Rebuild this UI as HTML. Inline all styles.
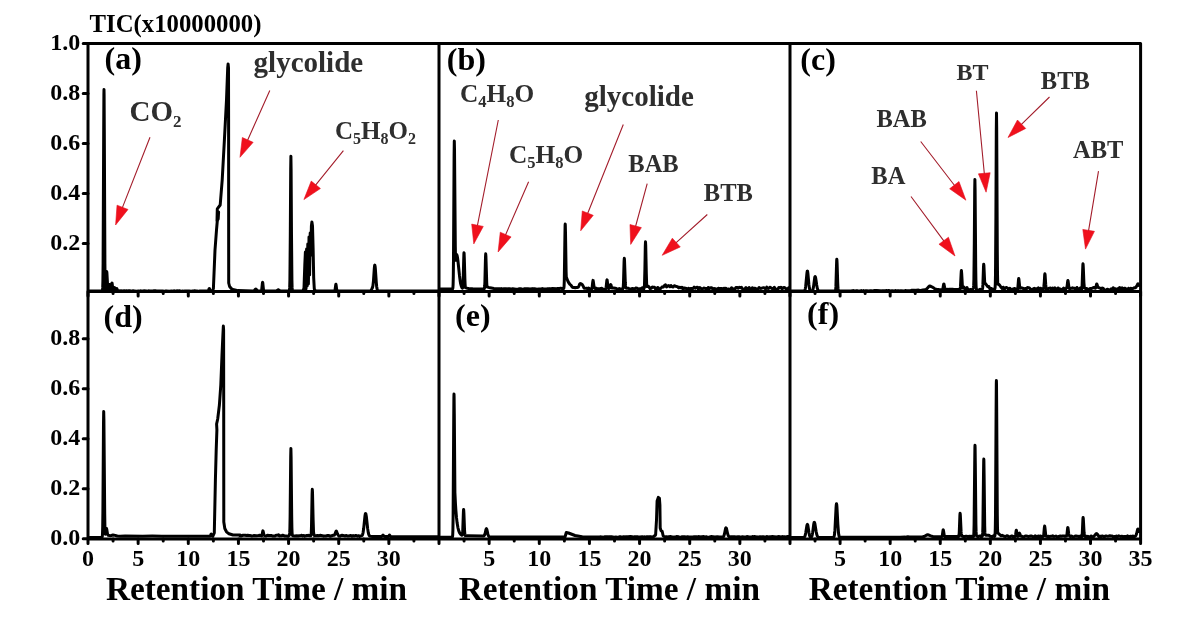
<!DOCTYPE html>
<html><head><meta charset="utf-8"><title>TIC chromatograms</title>
<style>html,body{margin:0;padding:0;background:#fff;}svg{display:block;}text{font-family:"Liberation Serif","Times New Roman",serif;font-weight:bold;}.k{fill:#000;}.g{fill:#2e2e2e;}</style></head><body>
<svg width="1179" height="629" viewBox="0 0 1179 629">
<rect width="1179" height="629" fill="#fff"/>
<g fill="none" stroke="#000" stroke-width="3" stroke-linejoin="round" stroke-linecap="round">
<polyline points="89.5,291 102.1,290.97 102.3,290.84 102.5,290.22 102.7,287.9 102.9,280.84 103.1,263.73 103.7,129.65 103.9,94.41 104,89.5 104.1,94.41 104.3,129.65 104.9,263.72 105.1,280.81 105.3,287.74 105.5,289.66 105.7,289.19 105.9,286.96 106.5,273.33 106.7,271.5 106.9,272.75 107.7,287.26 107.9,289.18 108.1,290.18 108.3,290.53 108.5,290.36 108.7,289.64 109.3,285.11 109.5,284.5 109.7,285.11 110.3,289.66 110.5,290.42 110.7,290.69 110.9,290.55 111.1,289.91 111.3,288.61 111.7,284.59 111.9,283.2 112,283 112.1,283.2 112.3,284.59 112.9,289.91 113.1,290.57 113.3,290.78 113.5,290.67 113.7,290.27 114.3,287.83 114.5,287.5 114.7,287.83 115.3,290.26 115.5,290.63 115.7,290.69 115.9,290.46 116.5,288.73 116.7,288.5 116.9,288.74 117.3,289.97 117.7,290.79 117.9,290.93 118.7,290.83 119.9,291.08 120.9,290.81 122.1,291.02 124.3,290.78 125.5,290.98 126.5,290.77 127.5,290.95 128.7,290.78 129.7,290.79 131.9,291.15 133.1,290.81 134.3,290.88 136.3,291.21 138.5,290.96 139.7,291.24 140.7,290.82 140.9,290.81 141.9,291.18 143.1,290.89 144.1,290.82 146.3,290.9 147.3,291.13 148.5,290.84 149.5,291.02 150.7,291.07 151.7,290.95 152.9,291.02 154.1,290.78 156.1,290.85 157.3,291.09 159.5,290.91 160.7,291.04 162.7,290.91 163.9,291.15 165.1,291.08 166.1,290.87 169.5,291.18 170.5,291.11 171.5,290.91 172.7,291.24 173.9,290.82 175.9,291.11 177.1,290.83 178.3,290.97 179.3,290.77 180.5,291.09 181.5,291.13 182.7,291.05 183.7,291.19 184.9,290.92 185.9,291.1 189.1,290.98 191.3,291.22 192.5,290.99 193.7,291.05 194.7,290.78 195.7,291.07 196.9,291.07 198.1,291.24 199.1,291.16 199.9,290.97 207.7,291 208.1,290.93 208.5,290.49 209.1,288.74 209.3,288.5 209.5,288.74 210.1,290.49 210.5,290.93 210.9,291 212.4,291 213.4,288.5 215,250 216.5,230 217.2,222 218.6,212 218.2,219 217,221 217.3,208.8 220.2,205 221,195 222.2,180 224.4,140 226.5,100 227.7,68 228.1,64 228.5,68 228.6,120 228.7,283 229.6,286.5 231.5,288.8 234,289.8 238,290.6 252.9,290.99 253.5,290.93 254.1,290.68 255.3,289.37 255.8,289.1 256.3,289.37 257.3,290.53 257.9,290.88 258.7,290.99 260.9,290.99 261.3,290.87 261.5,290.56 261.7,289.82 262.3,284.03 262.5,282.51 262.6,282.3 262.7,282.51 262.9,284.03 263.5,289.82 263.7,290.56 263.9,290.87 264.1,290.97 275.9,290.97 276.7,290.75 277.9,289.91 278.3,289.8 278.7,289.91 279.9,290.75 280.7,290.97 289.1,290.95 289.3,290.76 289.5,289.93 289.7,287.15 289.9,279.6 290.3,235.62 290.7,168.97 290.9,156.3 291.1,168.97 291.5,235.62 291.9,279.6 292.1,287.15 292.3,289.93 292.5,290.76 292.7,290.95 303,291 304,288 304.8,265 305.4,252 306,289 306.6,249 307.2,286 307.8,244 308.4,284 309,237 309.6,275 310.2,233 310.8,255 311.4,226 311.9,222 312.5,226 313.1,248 313.7,278 314.3,289 315.5,291 334.3,290.99 334.7,290.81 334.9,290.42 335.1,289.6 335.7,284.84 335.9,284.2 336.1,284.84 336.7,289.6 336.9,290.42 337.1,290.81 337.5,290.99 368.9,291 370.3,290.87 370.9,290.48 371.7,289.24 372.5,287.5 372.9,285.94 373.5,280.55 374.3,268.55 374.5,266.38 374.7,265.23 374.8,265.1 375.1,266.29 375.3,268.21 376.3,282.62 376.7,286.76 376.9,288.16 377.3,289.87 377.7,290.61 378.1,290.89 379.5,291 438.5,291"/>
<polyline points="440.5,289 452.3,288.99 452.5,288.94 452.7,288.72 452.9,287.81 453.1,284.77 453.3,276.53 453.5,258.75 454.1,155.62 454.3,141 454.5,148.96 455.3,246.32 455.5,256.7 455.7,260.3 455.9,259.9 456.3,255.84 456.5,254.65 456.6,254.5 456.7,254.55 457.1,255.49 457.5,257.55 457.9,260.53 459.5,275.71 460.3,281.7 460.7,283.87 461.3,286.18 461.9,287.57 462.3,288.1 462.5,288.19 462.7,287.93 462.9,286.79 463.1,283.81 463.7,259.88 463.9,253.57 464,252.7 464.1,253.3 464.3,257.73 464.9,279.48 465.1,284.08 465.3,286.76 465.5,287.66 466.1,287.9 467.3,288.23 468.7,288.48 472.7,288.8 483.7,288.99 484.1,288.93 484.3,288.72 484.5,287.99 484.7,286.02 484.9,281.75 485.5,257.11 485.7,253.8 485.9,256.05 486.7,282.26 486.9,285.74 487.1,286.87 488.5,287.39 490.1,287.83 493.9,288.45 499.9,288.84 500.5,288.95 501.5,288.62 502.7,288.87 503.9,288.71 505.9,288.67 507.1,289.1 508.3,288.73 510.3,288.87 511.5,289.17 512.7,288.71 515.9,289.17 518.1,289.15 519.3,288.81 521.3,288.85 522.5,289.15 523.5,289.19 524.7,288.71 527.9,288.75 530.1,288.95 532.3,288.61 533.5,288.84 534.7,288.82 536.9,289.13 538.9,288.89 541.1,288.97 542.3,288.59 543.5,289.09 545.7,289.07 546.7,289.02 547.7,288.8 548.9,288.78 549.9,288.61 551.1,288.91 552.3,288.56 556.5,288.7 557.7,288.53 559.9,288.59 560.1,288.37 560.9,288.32 562.1,288.63 563.1,288.25 563.5,288.44 563.7,288.43 563.9,287.86 564.1,285.77 564.3,280.44 564.9,237.03 565.1,225.61 565.2,223.99 565.3,225.03 565.5,232.87 566.1,271.52 566.3,276.97 567.7,280.7 568.9,283.01 569.9,284.35 570.9,285.1 572.1,286.9 573.1,287.6 574.3,287.46 575.3,287.78 576.3,287.56 577.1,287.59 577.9,287.41 578.3,287.1 578.7,286.51 579.7,284.08 580.1,283.61 580.3,283.55 580.9,283.84 581.5,283.93 581.9,284.17 582.9,285.56 584.1,288.16 585.1,288.36 586.3,288.16 587.3,288.66 587.5,288.65 588.5,288.1 590.7,289.25 591.5,289.11 591.7,288.99 591.9,288.66 592.1,287.91 592.7,282.16 593,280.39 593.1,280.48 593.3,281.42 594.1,287.25 594.3,287.9 594.7,288.39 595.1,288.5 596.1,288.28 596.3,288.33 597.3,288.98 598.5,288.72 599.5,288.99 600.7,288.43 601.7,288.31 602.7,288.95 603.9,289.22 605.5,288.99 605.7,288.87 605.9,288.54 606.1,287.75 606.7,281.61 606.9,280 607,279.78 607.1,279.93 607.3,281.05 607.9,286.52 608.1,287.68 608.3,288.34 608.5,288.57 608.9,288.54 609.7,288.03 610.1,286.82 610.5,284.91 610.7,284.49 610.9,284.71 611.7,287.61 612.1,288.09 613.7,288.03 614.9,288.33 615.9,288.3 617.1,288.82 618.1,289.1 618.3,289.07 619.3,288.51 620.5,289.1 622.3,289.12 622.7,288.99 622.9,288.68 623.1,287.93 623.3,286.11 623.5,282.34 624.1,261.1 624.3,258.24 624.5,260.13 625.3,282.47 625.5,285.44 625.7,287.05 625.9,287.79 626.1,288.08 626.3,288.17 628.1,288.19 629.1,288.64 630.3,289.02 631.3,288.95 632.5,288.5 634.7,288.88 635.7,288.09 635.9,288.05 637.1,288.26 637.7,288.77 638.1,288.96 639.9,288.81 640.1,289.16 642.3,287.73 642.5,287.8 643.5,289.24 643.9,288.73 644.1,288.22 644.3,287.03 644.5,284.16 644.9,268.95 645.3,245.99 645.5,241.76 645.7,245.01 646.3,273.09 646.7,285.3 646.9,286.61 647.9,286.09 648.9,286.7 650.1,288.62 651.1,288.38 652.3,287.12 653.3,287.15 654.5,287.29 655.5,289.1 655.7,289.26 656.7,289.01 657.7,287.4 657.9,287.38 658.9,288.88 659.9,289.08 660.1,289 662.1,286.99 662.3,286.9 663.3,287.03 664.5,285.5 665.5,284.88 666.5,286.85 666.7,286.95 667.7,285.99 668.7,285.6 668.9,285.67 669.9,286.66 670.9,285.59 671.1,285.6 672.1,286.83 673.1,286.97 673.3,286.86 674.3,285.69 676.5,286.55 677.5,286.69 678.7,287.86 679.7,287.28 679.9,287.28 680.9,287.81 681.9,287.25 682.1,287.38 683.1,289.31 684.1,288.05 684.3,287.96 686.3,288.56 687.5,289.45 688.5,288.31 688.7,288.32 689.7,289.5 690.7,288.51 690.9,288.42 692.9,288.47 693.1,288.35 694.1,287.16 695.1,288.15 695.3,288.19 696.3,287.58 697.3,287.16 697.5,287.3 698.5,289.18 699.5,287.7 699.7,287.62 701.7,288.93 701.9,288.95 702.9,288.55 703.9,288 704.1,287.99 705.1,288.45 706.3,288.6 707.3,289.14 708.3,287.54 708.5,287.48 709.5,288.56 710.7,287.75 711.7,287.82 712.7,288.99 712.9,289.05 713.9,288.42 715.1,288.61 717.1,289.44 717.3,289.36 718.3,288.25 719.5,288.67 720.5,288.41 721.5,288.43 722.7,288.9 723.9,288.3 724.9,288.49 725.9,288.36 726.1,288.45 727.1,289.55 728.1,288.98 728.3,288.96 729.3,289.38 730.3,289.53 730.5,289.39 731.5,287.77 732.5,288.48 733.7,289.55 734.7,289.31 734.9,289.12 735.9,287.46 736.9,287.42 737.1,287.49 738.1,288.25 739.1,287.38 739.3,287.33 740.3,287.73 741.3,287.33 741.5,287.43 742.5,288.84 744.7,289.43 745.7,287.68 745.9,287.63 746.9,288.96 747.9,288.83 748.1,288.69 749.1,287.47 750.1,289.22 750.3,289.42 751.3,289.62 752.3,287.85 752.5,287.84 753.5,289.58 754.5,288.27 754.7,288.16 755.7,288.37 756.7,289.55 756.9,289.64 757.9,289.26 758.9,287.68 759.1,287.58 760.1,288.22 761.1,288.42 763.5,287.64 764.5,287.93 765.5,288.88 765.7,288.81 766.7,287.15 767.7,288.41 767.9,288.51 768.9,288.25 769.9,287.25 770.1,287.22 772.1,288.65 772.3,288.7 773.3,288.43 774.3,287.37 774.5,287.48 775.5,289.66 776.5,289.2 776.7,289.19 777.7,289.63 778.7,287.58 778.9,287.41 779.9,287.79 780.9,287.26 781.1,287.38 782.1,289.13 783.3,287.77 784.3,287.44 785.5,288.31 786.5,289.47 787.5,289.25 788.7,287.77 788.9,287.72"/>
<polyline points="791.5,291 803.5,290.97 804.3,290.81 804.7,290.45 805.1,289.55 805.3,288.77 805.7,286.26 806.9,273.35 807.1,271.88 807.3,271.1 807.4,271 807.5,271.1 807.7,271.88 807.9,273.35 808.9,284.48 809.3,287.68 809.7,289.55 809.9,290.09 810.3,290.67 810.7,290.88 811.1,290.94 812.1,290.8 812.5,290.47 812.9,289.67 813.5,286.94 814.7,277.61 814.9,276.79 815.1,276.5 815.3,276.7 815.7,278.2 816.7,285.01 817.3,288.26 817.9,290 818.5,290.69 819.1,290.89 820.1,290.94 834.7,290.92 835.3,290.8 835.5,290.43 835.7,289.32 835.9,286.64 836.5,265.6 836.7,260.07 836.8,259.3 836.9,259.82 837.1,263.67 837.7,282.63 837.9,286.63 838.1,288.98 838.3,290.15 838.5,290.65 838.9,290.89 849.9,290.89 850.1,290.97 851.3,291 852.5,290.64 853.5,290.62 854.7,291 856.9,290.62 858.1,291.12 859.1,290.96 860.3,291.01 861.3,290.62 862.3,291.04 862.5,291.04 863.5,290.61 864.7,291.06 865.7,290.83 866.7,290.77 868.9,291.09 870.1,290.72 871.1,290.64 872.3,290.87 874.5,290.61 876.7,290.57 879.9,290.72 881.1,290.99 882.3,290.72 883.3,290.83 884.3,290.65 885.5,290.73 886.5,290.55 887.7,290.67 888.7,290.54 889.9,290.96 892.1,290.63 894.3,291.07 895.3,290.62 895.5,290.61 896.5,291 897.7,290.77 898.7,290.8 899.9,290.98 900.9,290.71 904.1,290.96 905.3,290.56 906.5,290.82 910.7,290.43 911.9,290.22 914.1,290.17 915.3,290.51 916.3,290.22 918.5,290.06 919.7,290.48 920.7,290.47 922.9,290.05 924.9,289.85 926.1,289.47 926.7,288.96 929.1,286.31 929.5,285.99 929.7,285.99 931.1,286.51 932.9,287.43 933.9,288.02 935.1,289.16 936.1,289.22 937.1,289.48 938.3,289.39 939.5,289.65 941.5,289.69 942.5,289.43 942.9,288.75 943.5,285.08 943.7,284.13 943.8,284 943.9,284.07 944.1,284.69 944.7,287.89 944.9,288.54 945.1,288.98 945.5,289.33 946.1,289.42 947.1,289.3 948.1,289.44 949.3,289.21 950.3,289.17 951.5,289.31 952.7,289.25 953.7,289.42 959.3,289.42 959.9,289.17 960.1,288.86 960.5,286.39 961.1,274.19 961.3,270.97 961.4,270.51 961.7,273.53 962.5,288.08 962.7,287.95 963.5,286.83 963.7,286.89 964.7,288.82 965.7,288.93 965.9,288.8 966.9,287.47 967.9,289.61 968.1,289.84 969.1,290.06 970.1,289.44 970.3,289.4 972.3,289.92 972.5,289.77 973.1,288.71 973.3,288.2 973.5,287.19 973.7,285.13 973.9,279.18 974.3,243.8 974.7,189.87 974.9,179.55 975.1,189.85 975.7,266.52 975.9,279.97 976.1,286.29 976.3,288.72 976.5,289.56 976.7,289.88 976.9,289.99 977.9,289.91 978.9,289.96 980.1,289.28 981.1,290.06 981.3,290.09 982.1,289.61 982.5,288.83 982.7,287.43 982.9,284.4 983.5,266.78 983.7,264.19 983.9,265.55 984.7,282.78 985.7,283.87 987.7,286.57 987.9,286.68 988.9,286.55 989.9,288.78 990.1,288.95 991.1,288.49 992.3,288.89 994.3,289.21 994.7,289.05 994.9,288.7 995.1,287.55 995.3,283.85 995.5,273.97 995.9,216.55 996.3,129.69 996.5,112.93 996.7,129.24 997.3,251.68 997.5,272.9 997.7,282.76 997.9,284.15 998.3,284.12 998.5,284.23 999.7,285.26 1001.3,287.55 1002.1,288.37 1003.1,287.22 1003.3,287.28 1004.3,289.16 1005.5,287.89 1006.5,287.51 1007.7,288.23 1008.7,289.44 1009.7,288.14 1009.9,288.14 1010.9,289.52 1011.9,290.13 1012.1,290.07 1013.1,288.85 1014.1,288.57 1015.3,288.82 1016.5,289.42 1017.3,289.5 1017.5,289.32 1017.7,288.65 1017.9,287.28 1018.5,279.57 1018.7,278.53 1018.9,279.23 1019.7,287.24 1019.9,288.01 1020.1,288.29 1020.3,288.26 1020.9,287.71 1022.9,288.17 1024.1,289.56 1025.1,288.45 1025.3,288.4 1026.3,289.07 1027.3,287.66 1027.5,287.53 1028.5,287.65 1029.5,288.18 1030.7,289.36 1031.9,289.41 1032.9,289.37 1033.9,288.39 1034.1,288.35 1035.1,288.92 1036.3,288.78 1037.3,288.78 1038.3,287.89 1038.5,288 1039.5,289.97 1040.5,288.21 1040.7,288.23 1041.7,290.21 1042.7,290.1 1042.9,289.86 1043.5,288.33 1043.9,286.25 1044.3,281.81 1044.7,274.86 1044.9,273.67 1045.1,274.83 1045.7,284.2 1046.1,288.38 1046.3,289.25 1046.5,289.7 1046.7,289.92 1047.1,290.13 1047.3,290.04 1048.3,288.72 1049.5,288.2 1050.5,288.05 1051.5,289.92 1051.7,289.92 1052.7,288.05 1053.7,289 1053.9,288.98 1054.9,287.86 1057.1,290.13 1058.1,288.04 1058.3,288 1059.3,289.75 1060.3,288.96 1060.5,288.98 1061.5,289.94 1062.5,289.47 1063.7,288.1 1064.7,289.8 1064.9,289.86 1066.1,288.58 1066.7,287.68 1067.1,286.08 1067.7,281.19 1067.9,280.52 1068.1,280.95 1068.9,287.12 1069.1,288.06 1069.3,288.54 1069.5,288.69 1070.3,288.71 1072.5,287.84 1073.5,288.36 1074.7,288.33 1075.7,289.66 1075.9,289.58 1076.9,287.45 1077.9,289.36 1078.1,289.57 1079.1,289.79 1080.1,287.96 1080.3,287.98 1081.3,290.01 1081.5,289.83 1081.7,289.42 1081.9,288.4 1082.1,286.09 1082.7,268.81 1082.9,264.37 1083,263.78 1083.1,264.26 1083.3,267.51 1083.9,282.54 1084.3,287.13 1084.5,287.78 1084.9,288.25 1085.7,288.48 1086.7,288.53 1086.9,288.69 1087.9,290.23 1088.9,289.19 1090.1,288.45 1091.3,288.59 1092.3,288.2 1093.5,287.58 1094.5,287.59 1095.1,288.24 1095.5,288.26 1095.7,287.81 1096.7,283.91 1097.1,284.55 1097.7,286.67 1097.9,287.19 1098.1,287.37 1098.5,287.59 1098.9,287.53 1099.3,287.89 1100.1,288.21 1101.1,288.86 1102.1,288.04 1102.3,288 1103.3,288.47 1104.3,289.95 1104.5,290.08 1106.5,289.72 1107.7,289.19 1108.9,289.99 1109.9,290.05 1110.9,289.06 1111.1,289 1112.1,289.43 1113.1,287.73 1113.3,287.73 1114.3,289.47 1115.3,288.75 1115.5,288.76 1116.5,289.52 1117.7,289.13 1118.7,288.22 1119.7,287.61 1119.9,287.77 1120.9,290.01 1121.9,287.97 1122.1,287.86 1123.1,288.73 1124.3,288.36 1125.3,288.24 1126.5,289.54 1127.5,290.14 1128.5,288.32 1128.7,288.24 1129.7,289.24 1130.7,288.34 1130.9,288.31 1131.9,288.97 1133.1,288.45 1134.1,287.87 1134.9,287.83 1135.5,287.68 1135.9,287.33 1136.1,287.02 1137.3,284.96 1137.7,284.06 1137.9,283.84 1138.1,283.85 1138.3,284.06 1138.9,285.45"/>
<polyline points="89.5,537.5 101.7,537.46 101.9,537.41 102.1,537.21 102.3,536.43 102.5,533.82 102.7,526.75 102.9,511.48 103.5,423.35 103.7,411.5 103.9,419.54 104.7,513.2 104.9,525.63 105.1,532.3 105.3,534.19 105.5,533.92 105.9,532.01 106.3,529.03 106.5,528.5 106.7,528.97 107.5,533.93 107.9,535 108.3,535.32 109.5,535.59 110.5,535.65 111.3,535.49 112.5,535.04 113,535 114.1,535.17 117.3,535.99 120.1,536.2 125.1,536.09 142.7,536.19 152.3,536.1 161.9,536.19 199.9,536.2 209.5,536.28 209.9,536.25 210.3,535.98 210.9,534.45 211.2,534 211.5,534.46 212.1,535.99 212.3,536.18 212.7,536.27 213,536 214.3,533 215.4,480 216.2,450 216.9,430 216.6,424 217.7,419 219.4,405 220.8,385 222,355 222.9,335 223.35,326 223.6,330 223.7,400 223.8,522 224.8,528.5 226.5,531.8 229,533.8 233,535 240,535 240.1,536.03 240.9,536.1 242.1,535.53 243.1,535.24 244.1,535.29 245.3,535.2 246.3,535.43 247.5,535.2 249.7,535.38 251.9,536.01 252.9,535.88 254.1,535.54 256.3,535.65 258.5,535.47 259.7,535.22 260.7,535.41 261.3,535.78 261.7,535.92 261.9,535.65 262.1,534.96 262.7,531.4 262.9,530.83 263.1,531.18 263.9,534.76 264.3,535.51 264.7,535.71 266.1,535.99 267.3,535.36 269.5,535.4 271.7,535.6 272.9,536.1 274.9,536.03 276.1,535.18 277.7,535.27 278.5,534.74 278.7,534.89 279.3,535.81 279.5,535.93 280.5,535.64 281.7,535.71 282.7,535.17 283.9,535.62 284.9,536.1 286.1,536.01 288.1,536.15 288.3,536.09 289.1,535.54 289.3,535.28 289.5,534.72 289.7,532.91 289.9,528.01 290.1,517.46 290.7,456.68 290.9,448.53 291.1,456.7 291.7,517.54 291.9,528.13 292.1,533.07 292.3,534.93 292.5,535.52 292.7,535.7 294.7,536.11 296.9,535.85 298.1,535.97 299.3,535.67 300.3,535.76 301.3,535.29 301.5,535.31 302.5,535.99 303.5,535.49 303.7,535.51 304.7,536.13 306.9,535.52 307.9,535.36 309.1,535.47 310.3,535.86 310.7,535.8 310.9,535.54 311.1,534.6 311.3,532.03 311.5,526.34 312.1,493.8 312.3,489.37 312.5,492.25 313.1,519.33 313.5,531.04 313.7,533.58 313.9,534.8 314.1,535.33 314.5,535.7 315.7,535.81 317.9,535.46 318.9,535.8 319.1,535.78 320.1,535.25 322.3,535.7 323.5,536.18 324.5,535.89 325.7,536.1 326.7,535.73 327.7,535.51 328.9,535.5 329.9,536.15 330.1,536.19 333.3,535.26 333.9,535.37 334.3,535.22 334.9,534.2 335.9,531.43 336.2,531.11 336.5,531.3 336.7,531.67 337.5,533.91 338.1,535.17 338.7,535.8 339.9,536.2 341.1,535.49 342.1,535.31 343.1,535.59 344.3,535.7 345.3,535.94 346.5,535.48 347.7,536.08 348.7,536.03 350.9,535.5 351.9,536.19 352.1,536.2 353.1,535.61 354.1,536.07 354.3,536.07 355.3,535.54 356.3,535.57 357.5,536.15 358.5,535.76 358.7,535.79 359.7,536.42 359.9,536.34 360.1,535.98 361.5,535.87 362.1,535.45 362.5,534.74 363.1,532.52 363.7,528.31 364.9,516.54 365.3,514.09 365.5,513.56 365.6,513.5 365.9,514.03 366.3,516.19 367.7,528.89 368.3,532.74 368.7,534.33 369.1,535.3 369.5,535.84 370.1,536.2 370.7,536.32 372.1,536.4 381.7,536.42 382.1,536.25 382.7,535.29 383,535 383.3,535.29 383.7,536.02 384.1,536.38 384.7,536.46 388.1,536.46 388.5,536.35 388.7,536.17 389.3,535.14 389.5,535 389.7,535.14 390.3,536.18 390.7,536.44 391.1,536.48 438.5,536.7"/>
<polyline points="440.5,537.3 452.1,537.27 452.3,537.16 452.5,536.7 452.7,535.03 452.9,530.01 453.1,517.84 453.7,422.63 453.9,397.6 454,394.1 454.1,396.44 454.3,413.84 454.9,492.5 455.5,504.5 455.9,510.63 456.5,517.7 457.1,522.83 457.9,527.57 458.7,530.65 459.5,532.64 460.5,534.17 461.1,534.74 461.9,535.23 462.1,535.24 462.3,535.02 462.5,534.18 462.7,532.01 463.3,514.68 463.5,510.13 463.6,509.5 463.7,509.94 463.9,513.17 464.5,528.96 464.7,532.3 464.9,534.25 465.1,535.23 465.3,535.65 465.7,535.85 468.1,535.76 482.5,535.98 483.7,535.91 484.3,535.54 484.7,534.82 485.1,533.47 485.9,529.72 486.1,529.07 486.4,528.7 486.7,529.09 486.9,529.69 487.9,534.15 488.5,535.9 489.1,536.65 489.5,536.85 490.1,536.99 565,537 566.3,532.5 568.5,533 575,535.5 582,536.8 582.1,536.94 599.9,536.93 600.1,536.75 601.7,536.88 603.9,537.19 605.1,536.72 606.1,536.86 607.1,536.76 608.3,537.21 609.5,536.7 611.5,536.65 613.9,537.16 615.9,537.06 617.1,537.21 618.1,537.18 619.3,536.81 620.3,536.73 621.5,537.17 622.5,537.07 623.7,536.63 624.9,536.99 625.9,536.84 628.1,536.81 630.3,536.61 632.5,536.82 633.5,537.14 633.7,537.13 634.7,536.68 635.7,537.14 635.9,537.14 636.9,536.73 638.1,536.84 639.1,537.09 640.1,537.09 642.3,536.65 643.5,536.88 644.7,536.85 645.7,537.15 646.9,536.72 647.9,536.81 648.9,537.1 650.1,536.61 652.3,537.08 653,537 655.6,535 656.5,520 657.1,501 658.3,497.4 659.4,498.2 659.9,505 660.2,528 661,530.5 662.2,531.5 663.2,536 665,536.9 666.5,536.76 667.7,537.01 668.7,536.79 670.9,536.6 672.1,537.03 673.3,537.11 674.3,536.96 675.3,537.13 676.5,536.59 678.7,536.86 679.9,537.15 680.9,537.14 682.1,536.8 683.1,536.72 685.3,536.87 686.3,537.1 687.5,536.68 688.7,537.05 690.9,537.06 692.9,536.94 694.1,536.76 696.3,536.78 697.3,537.01 698.5,536.61 699.5,536.67 700.7,537.01 701.9,536.7 703.9,536.58 705.1,536.89 706.3,536.79 707.3,537.14 709.5,537.15 710.5,536.75 711.7,536.6 712.9,536.63 714.9,536.96 717.3,536.7 719.5,536.92 722.5,537.02 722.9,536.96 723.3,536.75 723.7,536.3 723.9,535.89 724.5,533.73 725.5,528.69 725.7,528.09 725.9,527.81 726,527.8 726.3,528.05 726.5,528.56 727.7,534.01 728.3,535.83 728.9,536.52 730.3,536.96 731.5,536.66 734.7,536.63 735.9,537.07 738.1,536.73 739.1,536.77 740.3,537.13 742.5,536.67 743.5,536.98 744.7,536.92 745.7,537.11 746.9,536.59 749.1,537.02 751.3,537.07 752.5,536.56 753.5,536.7 754.5,536.6 755.7,536.64 756.9,537.08 757.9,536.87 759.1,537.05 760.1,536.74 761.3,537.02 762.3,536.79 763.3,536.68 764.5,536.98 765.5,537.07 766.7,536.58 767.9,536.87 768.9,536.89 770.1,536.65 771.1,536.73 772.3,536.6 774.3,536.66 775.5,536.87 776.5,536.9 777.7,536.63 778.7,536.52 780.9,536.89 782.1,536.62 783.1,536.68 784.3,536.63 785.5,536.97 787.7,536.54 788.9,536.59"/>
<polyline points="791.5,537.5 802.9,537.46 803.7,537.39 804.3,537.12 804.9,536.23 805.3,534.99 805.7,533.08 806.9,525.58 807.1,524.84 807.4,524.4 807.7,524.88 807.9,525.68 808.9,532.3 809.5,535.34 809.9,536.45 810.3,537.02 810.7,537.23 811.1,537.18 811.3,537.05 811.7,536.51 811.9,536.04 812.3,534.54 812.7,532.18 813.7,524.39 814.1,522.55 814.3,522.3 814.5,522.46 814.9,523.72 816.1,531.21 816.7,534.31 817.3,536.14 817.9,536.99 818.3,537.24 818.7,537.35 819.9,537.42 832.7,537.38 833.3,537.32 833.7,537.11 834.1,536.42 834.3,535.68 834.7,532.82 834.9,530.44 836.1,506.87 836.3,504.52 836.5,503.7 836.7,504.37 836.9,506.29 837.9,524.73 838.5,532.81 838.7,534.37 839.1,536.22 839.5,536.99 840.1,537.31 900.1,537.2 905.3,537.12 907.8,536.7 909.5,536.99 910.5,537.07 921.1,536.94 922.7,536.84 923.9,536.58 924.9,536.13 926.7,535.06 927.7,534.8 928.9,535.01 931.7,536.25 933.3,536.64 935.5,536.77 941.5,536.71 941.9,536.6 942.1,536.36 942.3,535.77 942.9,531.18 943.1,529.97 943.2,529.8 943.3,529.91 943.5,530.75 944.3,535.75 944.5,536.26 944.9,536.62 958.5,536.48 958.7,536.33 958.9,535.84 959.1,534.52 959.3,531.67 959.9,515.21 960.1,513.15 960.3,514.67 961.1,531.69 961.3,533.89 961.5,535.09 961.7,535.69 961.9,535.94 962.5,536.09 963.5,536.67 963.7,536.7 964.7,536.39 965.9,536.24 966.9,536.26 967.9,536.96 968.1,536.96 969.1,536.26 970.1,536.54 971.3,536.32 972.3,536.38 973.3,536.75 973.5,536.57 973.7,535.54 973.9,532.37 974.1,524.63 974.7,463.76 974.9,447.62 975,445.32 975.1,447.48 975.3,463.34 975.9,523.9 976.1,531.63 976.3,534.8 976.5,535.82 976.7,536.06 977.9,536.75 979.1,536.1 980.1,535.88 981.1,536.86 981.3,536.91 982.1,536.43 982.3,536.08 982.5,535.27 982.7,532.65 982.9,526.14 983.5,474.7 983.7,461.04 983.8,459.1 983.9,460.95 984.1,474.43 984.7,525.97 984.9,532.66 985.1,534.66 985.7,535.24 988.9,535.32 990.1,536.16 991.1,536.36 992.1,536.73 992.3,536.68 993.3,535.84 994.3,536.45 994.5,536.47 994.7,536.32 994.9,535.79 995.1,533.93 995.3,528.42 995.5,515.14 996.1,411.54 996.3,384.29 996.4,380.48 996.5,384.25 996.7,411.36 997.3,514.43 997.5,527.49 997.7,532.8 997.9,533.06 998.9,533.83 1000.9,535.77 1001.1,535.8 1002.1,535.21 1004.3,536.38 1005.3,536.65 1005.5,536.6 1006.5,535.83 1007.5,535.81 1007.7,535.9 1008.7,536.83 1009.7,536.9 1011.9,535.89 1012.1,535.94 1013.1,536.9 1014.1,536.33 1014.3,536.33 1014.9,536.62 1015.1,536.6 1015.3,536.36 1015.7,534.18 1016.1,530.93 1016.3,530.28 1016.5,530.67 1017.3,535.55 1017.5,536.22 1017.7,536.42 1018.1,536.32 1018.5,535.8 1018.9,534.81 1019.3,533.39 1019.5,533.21 1019.9,534.02 1020.3,535.21 1020.7,535.84 1021.1,536.1 1021.9,536.31 1023.1,536.84 1024.1,536.82 1025.3,536.05 1026.3,536.09 1028.5,536.44 1029.5,536.3 1030.7,535.97 1031.7,536.1 1032.9,536.69 1033.9,536.88 1034.1,536.8 1035.1,535.87 1036.1,536.43 1037.3,536.72 1038.3,535.94 1038.5,535.95 1039.5,536.82 1040.5,536.03 1040.7,536 1041.7,536.53 1043.1,536.45 1043.3,536.35 1043.5,536.01 1043.7,535.16 1044.3,528.25 1044.6,526.11 1044.7,526.24 1044.9,527.41 1045.7,534.88 1045.9,535.66 1046.1,536.06 1046.5,536.35 1047.3,536.48 1048.3,536.31 1049.5,536.57 1050.5,536.34 1051.7,536.28 1052.7,535.82 1053.9,536.52 1054.9,536.38 1055.9,536.1 1056.1,536.13 1057.1,536.71 1058.1,536.72 1060.3,536.03 1061.5,536.35 1062.7,535.92 1063.7,535.94 1064.7,536.27 1065.9,535.89 1066.5,535.98 1066.7,535.75 1066.9,535.07 1067.5,529.24 1067.7,527.7 1067.8,527.49 1067.9,527.64 1068.1,528.74 1068.7,533.76 1068.9,534.78 1069.3,535.68 1069.9,536.27 1070.3,536.54 1071.3,535.93 1071.5,535.95 1072.5,536.65 1073.5,536.7 1074.7,536.39 1075.7,535.89 1075.9,535.88 1076.9,536.37 1077.9,536.24 1078.1,536.28 1079.1,536.91 1080.1,536.02 1080.3,536.01 1081.3,536.79 1081.5,536.79 1081.7,536.7 1081.9,536.33 1082.1,535.27 1082.3,532.96 1082.9,519.27 1083.1,517.39 1083.3,518.57 1084.1,532.99 1084.5,535.97 1084.7,536.39 1084.9,536.44 1085.7,535.99 1086.7,536.85 1086.9,536.88 1087.9,536.35 1089.1,536.9 1090.1,536.85 1091.1,536.03 1091.3,536.02 1092.3,536.7 1093.3,536.85 1093.5,536.76 1093.9,536.35 1094.5,535.58 1095.1,535.14 1095.9,533.94 1096.3,533.6 1096.5,533.62 1097.1,533.93 1097.7,534.57 1098.3,535.76 1098.9,536.66 1099.9,536.13 1100.1,536.13 1101.1,536.72 1102.1,535.99 1102.3,535.95 1104.3,536.8 1104.5,536.76 1105.5,535.99 1106.7,536.08 1107.7,536.34 1109.9,535.78 1110.9,535.93 1112.1,535.92 1113.1,536.77 1113.3,536.82 1114.3,536.54 1115.3,536.78 1115.5,536.72 1116.5,535.93 1117.5,536.6 1117.7,536.59 1118.7,535.86 1119.9,536.37 1120.9,536.48 1121.9,536.18 1122.1,536.21 1123.1,536.77 1124.3,536.39 1125.3,536.41 1126.3,536.74 1126.5,536.69 1127.5,535.84 1128.5,536.81 1128.7,536.86 1129.7,536.47 1130.7,536.21 1131.9,536.67 1132.9,536.08 1133.1,536.1 1134.1,536.89 1135.3,536.26 1135.9,535.6 1136.5,533.99 1137.5,529.79 1137.7,529.2 1137.9,528.94 1138.1,529.02 1138.3,529.38 1138.9,531.57"/>
</g>
<path d="M88.0,43.5H1140.6V539.0H88.0ZM88.0,291.5H1140.6M439.0,43.5V539.0M790.0,43.5V539.0" fill="none" stroke="#000" stroke-width="3" stroke-linejoin="round"/>
<path d="M88,291.5V296.1M113.07,291.5V293.5M138.14,291.5V296.1M163.21,291.5V293.5M188.29,291.5V296.1M213.36,291.5V293.5M238.43,291.5V296.1M263.5,291.5V293.5M288.57,291.5V296.1M313.64,291.5V293.5M338.71,291.5V296.1M363.79,291.5V293.5M388.86,291.5V296.1M413.93,291.5V293.5M439,291.5V296.1M439,291.5V296.1M464.07,291.5V293.5M489.14,291.5V296.1M514.21,291.5V293.5M539.29,291.5V296.1M564.36,291.5V293.5M589.43,291.5V296.1M614.5,291.5V293.5M639.57,291.5V296.1M664.64,291.5V293.5M689.71,291.5V296.1M714.79,291.5V293.5M739.86,291.5V296.1M764.93,291.5V293.5M790,291.5V296.1M790,291.5V296.1M815.04,291.5V293.5M840.09,291.5V296.1M865.13,291.5V293.5M890.17,291.5V296.1M915.21,291.5V293.5M940.26,291.5V296.1M965.3,291.5V293.5M990.34,291.5V296.1M1015.39,291.5V293.5M1040.43,291.5V296.1M1065.47,291.5V293.5M1090.51,291.5V296.1M1115.56,291.5V293.5M1140.6,291.5V296.1M88,539V543.6M113.07,539V541M138.14,539V543.6M163.21,539V541M188.29,539V543.6M213.36,539V541M238.43,539V543.6M263.5,539V541M288.57,539V543.6M313.64,539V541M338.71,539V543.6M363.79,539V541M388.86,539V543.6M413.93,539V541M439,539V543.6M439,539V543.6M464.07,539V541M489.14,539V543.6M514.21,539V541M539.29,539V543.6M564.36,539V541M589.43,539V543.6M614.5,539V541M639.57,539V543.6M664.64,539V541M689.71,539V543.6M714.79,539V541M739.86,539V543.6M764.93,539V541M790,539V543.6M790,539V543.6M815.04,539V541M840.09,539V543.6M865.13,539V541M890.17,539V543.6M915.21,539V541M940.26,539V543.6M965.3,539V541M990.34,539V543.6M1015.39,539V541M1040.43,539V543.6M1065.47,539V541M1090.51,539V543.6M1115.56,539V541M1140.6,539V543.6M1140.6,291.5V296.1M1140.6,539.0V543.6M88.0,243.4H83.2M88.0,193.4H83.2M88.0,143.4H83.2M88.0,93.4H83.2M88.0,43.5H83.2M88.0,538.8H83.2M88.0,488.8H83.2M88.0,438.8H83.2M88.0,388.8H83.2M88.0,338.8H83.2" fill="none" stroke="#000" stroke-width="3" stroke-linecap="round"/>
<g class="k" font-size="24"><text x="80.3" y="250" text-anchor="end">0.2</text><text x="80.3" y="200" text-anchor="end">0.4</text><text x="80.3" y="150" text-anchor="end">0.6</text><text x="80.3" y="100" text-anchor="end">0.8</text><text x="80.3" y="50" text-anchor="end">1.0</text><text x="80.3" y="545.4" text-anchor="end">0.0</text><text x="80.3" y="495.4" text-anchor="end">0.2</text><text x="80.3" y="445.4" text-anchor="end">0.4</text><text x="80.3" y="395.4" text-anchor="end">0.6</text><text x="80.3" y="345.4" text-anchor="end">0.8</text></g>
<g class="k" font-size="24"><text x="88" y="566" text-anchor="middle">0</text><text x="138.14" y="566" text-anchor="middle">5</text><text x="188.29" y="566" text-anchor="middle">10</text><text x="238.43" y="566" text-anchor="middle">15</text><text x="288.57" y="566" text-anchor="middle">20</text><text x="338.71" y="566" text-anchor="middle">25</text><text x="388.86" y="566" text-anchor="middle">30</text><text x="489.14" y="566" text-anchor="middle">5</text><text x="539.29" y="566" text-anchor="middle">10</text><text x="589.43" y="566" text-anchor="middle">15</text><text x="639.57" y="566" text-anchor="middle">20</text><text x="689.71" y="566" text-anchor="middle">25</text><text x="739.86" y="566" text-anchor="middle">30</text><text x="840.09" y="566" text-anchor="middle">5</text><text x="890.17" y="566" text-anchor="middle">10</text><text x="940.26" y="566" text-anchor="middle">15</text><text x="990.34" y="566" text-anchor="middle">20</text><text x="1040.43" y="566" text-anchor="middle">25</text><text x="1090.51" y="566" text-anchor="middle">30</text><text x="1140.6" y="566" text-anchor="middle">35</text></g>
<g class="k" font-size="33.3"><text x="105.9" y="599.9">Retention Time / min</text><text x="458.7" y="599.9">Retention Time / min</text><text x="808.7" y="599.9">Retention Time / min</text></g>
<text class="k" x="89.5" y="31.8" font-size="24.75">TIC(x10000000)</text>
<g class="k" font-size="32"><text x="104.6" y="69.3">(a)</text><text x="446.8" y="70.2">(b)</text><text x="800.3" y="70.0">(c)</text><text x="103.5" y="326.5">(d)</text><text x="455.1" y="326.3">(e)</text><text x="807.1" y="324.3">(f)</text></g>
<g class="g"><text x="129.6" y="120.6" font-size="29">CO<tspan font-size="17" dy="6">2</tspan></text><text x="253.6" y="71.7" font-size="29">glycolide</text><text x="335.0" y="139.1" font-size="25">C<tspan font-size="16" dy="4.6">5</tspan><tspan dy="-4.6">H</tspan><tspan font-size="16" dy="4.6">8</tspan><tspan dy="-4.6">O</tspan><tspan font-size="16" dy="4.6">2</tspan></text><text x="460.0" y="102.0" font-size="25.3">C<tspan font-size="16.5" dy="4.7">4</tspan><tspan dy="-4.7">H</tspan><tspan font-size="16.5" dy="4.7">8</tspan><tspan dy="-4.7">O</tspan></text><text x="509.0" y="162.9" font-size="25.3">C<tspan font-size="16.5" dy="4.7">5</tspan><tspan dy="-4.7">H</tspan><tspan font-size="16.5" dy="4.7">8</tspan><tspan dy="-4.7">O</tspan></text><text x="584.3" y="106.0" font-size="29">glycolide</text><text x="628.3" y="172.3" font-size="24.5">BAB</text><text x="703.8" y="200.6" font-size="24.5">BTB</text><text x="876.5" y="127.2" font-size="24.5">BAB</text><text x="871.3" y="183.9" font-size="24.5">BA</text><text x="956.6" y="80.4" font-size="24">BT</text><text x="1040.8" y="89.1" font-size="24.5">BTB</text><text x="1073.0" y="157.6" font-size="24.5">ABT</text></g>
<path d="M150,137.2L121.8,209.17M269.8,90.5L246.93,141.77M343.4,150.6L314.57,186.36M498.3,120L477.1,227.22M528.6,181.8L504.87,236.41M623.3,124.5L587.02,215.02M647.2,183.6L635.15,227.99M707.3,214.5L674.81,243.9M911,196.5L944.89,242.33M920.7,141.5L955.53,186.73M976.4,90.7L984.48,175.28M1049.5,97L1020.17,125.63M1098.5,171.1L1088.29,232.33" fill="none" stroke="#a31d2b" stroke-width="1.1"/>
<path d="M115.6,225L117.04,205.16L128.02,209.46ZM240,157.3L242.35,137.54L253.13,142.35ZM303.9,199.6L311.23,181.1L320.42,188.51ZM473.8,243.9L471.7,224.12L483.27,226.41ZM498.1,252L500.26,232.22L511.08,236.92ZM580.7,230.8L582.29,210.97L593.24,215.36ZM630.7,244.4L629.98,224.52L641.37,227.61ZM662.2,255.3L672.33,238.18L680.25,246.93ZM955,256L938.96,244.23L948.45,237.22ZM965.9,200.2L949.63,188.75L958.98,181.55ZM986.1,192.2L978.42,173.85L990.17,172.72ZM1008,137.5L1017.48,120.01L1025.72,128.45ZM1085.5,249.1L1082.8,229.39L1094.44,231.33Z" fill="#f0101c" stroke="#e01020" stroke-width="0.6" stroke-linejoin="round"/>
</svg></body></html>
